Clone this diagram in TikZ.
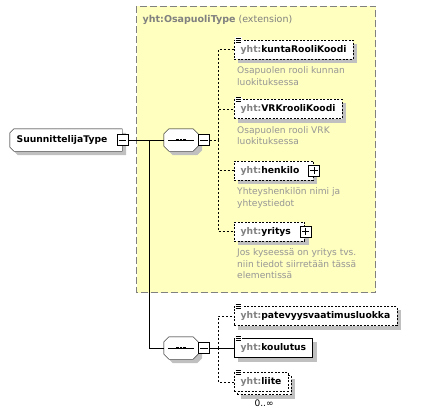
\documentclass[tikz,border=0pt]{standalone}
\usepackage{fontspec}
\setmainfont{DejaVu Sans}
\usetikzlibrary{positioning}
\pgfdeclarelayer{behind}
\pgfdeclarelayer{shade}
\pgfsetlayers{behind,shade,main}
\definecolor{boxyellow}{RGB}{255,255,192}
\definecolor{framegray}{RGB}{128,128,128}
\definecolor{shadowgray}{RGB}{192,192,192}
\definecolor{prefixgray}{RGB}{128,128,128}
\definecolor{notegray}{RGB}{150,150,150}
\newcommand{\yhtname}[1]{\textcolor{prefixgray}{yht:}#1}
\newcommand{\pluspad}{\hspace*{7pt}}
\newcommand{\drawminus}[1]{\draw[line width=0.7pt] ([xshift=2pt]#1.west) -- ([xshift=-2pt]#1.east);}
\newcommand{\drawplus}[1]{\drawminus{#1}\draw[line width=0.7pt] ([yshift=2pt]#1.south) -- ([yshift=-2pt]#1.north);}
\newcommand{\drawlist}[1]{%
    \fill[white] ([shift={(1,-2.5)}]#1.north west) rectangle ++(7,6);
    \foreach \dy in {-1.5,0.5,2.5}
        \draw[line width=0.7pt] ([shift={(1.5,\dy)}]#1.north west) -- ++(5,0);}
\newcommand{\boxshade}[1]{\fill[shadowgray] ([shift={(4,4)}]#1.north west) rectangle ([shift={(4,4)}]#1.south east);}
% outline with cut corners: options, node, left cut, right cut, offset
\newcommand{\cutoutline}[5][]{%
    \path[#1] ([shift={(#3+#5,#5)}]#2.north west) -- ([shift={(-#4+#5,#5)}]#2.north east)
        -- ([shift={(#5,#4+#5)}]#2.north east) -- ([shift={(#5,-#4+#5)}]#2.south east)
        -- ([shift={(-#4+#5,#5)}]#2.south east) -- ([shift={(#3+#5,#5)}]#2.south west)
        -- ([shift={(#5,-#3+#5)}]#2.south west) -- ([shift={(#5,#3+#5)}]#2.north west) -- cycle;}
\tikzset{
    %Define style for element boxes
    elem/.style={
           rectangle,
           draw=black, fill=white,
           font=\fontsize{9.2}{11}\selectfont\bfseries,
           inner xsep=6.5pt, inner ysep=0pt,
           minimum height=19pt,
           anchor=west},
    optelem/.style={elem, dash pattern=on 2pt off 1.5pt},
    % notes under elements
    note/.style={
           font=\fontsize{9.1}{11.3}\selectfont,
           text=notegray, align=left, inner sep=0pt},
    typebox/.style={
           rectangle,
           font=\fontsize{9.2}{11}\selectfont\bfseries,
           minimum width=112pt, minimum height=22pt, inner sep=0pt},
    seqbox/.style={
           rectangle,
           minimum width=34pt, minimum height=22pt, inner sep=0pt},
    cutbox/.style={draw=black, fill=white},
    cutshadow/.style={fill=shadowgray},
    pmbox/.style={
           rectangle, draw=black, fill=white,
           minimum size=11pt, inner sep=0pt},
    % Define connector styles
    optline/.style={dash pattern=on 2pt off 2pt},
    frame/.style={draw=framegray, fill=boxyellow, dash pattern=on 7pt off 3pt}
}
\begin{document}
\begin{tikzpicture}[x=1pt,y=-1pt,line width=0.8pt,node distance=8pt]
\useasboundingbox (0,0) rectangle (433,417);
 %extension frame
\begin{pgfonlayer}{behind}
\draw[frame] (136.5,6.5) rectangle (375.5,292.5);
\end{pgfonlayer}
\node[anchor=west, inner sep=0pt, text=framegray, font=\fontsize{9.5}{11}\selectfont] (title) at (142.5,19.5) {\textbf{yht:OsapuoliType} (extension)};

 %nodes
\node[typebox] (type) at (66,140) {SuunnittelijaType\hspace*{8pt}};
\node[pmbox] (typeminus) at (type.east) {};
\node[seqbox] (seqA) at (181,140) {};
\node[pmbox, right=0pt of seqA] (seqAminus) {};
\node[seqbox] (seqB) at (181,348) {};
\node[pmbox, right=0pt of seqB] (seqBminus) {};
\begin{pgfonlayer}{shade}
\cutoutline[cutshadow]{type}{4}{0}{4}
\cutoutline[cutbox]{type}{4}{0}{0}
\foreach \s in {seqA,seqB}{
    \cutoutline[cutshadow]{\s}{5}{5}{4}
    \cutoutline[cutbox]{\s}{5}{5}{0}
}
\end{pgfonlayer}
\drawminus{typeminus}
\drawminus{seqAminus}
\drawminus{seqBminus}
\foreach \s in {seqA,seqB}{
    \draw ([xshift=4pt]\s.west) -- ([xshift=-4pt]\s.east);
    \foreach \dx in {-3.7,0,3.7}
        \fill ([shift={(\dx-1.35,-1.35)}]\s.center) rectangle ++(2.7,2.7);
}

\node[optelem] (e1) at (234,49.5) {\yhtname{kuntaRooliKoodi}};
\node[note, below right=7.5pt and 3pt of e1.south west] (d1) {Osapuolen rooli kunnan\\luokituksessa};
\node[optelem] (e2) at (234,109) {\yhtname{VRKrooliKoodi}};
\node[note, below right=7.5pt and 3pt of e2.south west] (d2) {Osapuolen rooli VRK\\luokituksessa};
\node[optelem] (e3) at (234,170.5) {\yhtname{henkilo}\pluspad};
\node[note, below right=7.5pt and 3pt of e3.south west] (d3) {Yhteyshenkilön nimi ja\\yhteystiedot};
\node[optelem] (e4) at (234,231.5) {\yhtname{yritys}\pluspad};
\node[note, below right=7.5pt and 3pt of e4.south west] (d4) {Jos kyseessä on yritys tvs.\\niin tiedot siirretään tässä\\elementissä};
\node[pmbox, xshift=1pt] (e3plus) at (e3.east) {};
\node[pmbox, xshift=1pt] (e4plus) at (e4.east) {};
\drawplus{e3plus}
\drawplus{e4plus}

\node[optelem] (e5) at (234,316) {\yhtname{patevyysvaatimusluokka}};
\node[elem] (e6) at (234,348) {\yhtname{koulutus}};
\node[optelem] (e7back) at (237,385) {\phantom{\yhtname{liite}}};
\node[optelem] (e7) at (234,382) {\yhtname{liite}};
\node[inner sep=0pt, font=\fontsize{9}{11}\selectfont, below=5pt of e7back.south] (e7mult) {0..∞};
\drawlist{e1}
\drawlist{e2}
\drawlist{e5}
\drawlist{e6}
\drawlist{e7}

 %shadows
\begin{pgfonlayer}{behind}
\foreach \e in {e1,e2,e3,e4,e5,e6,e7back}{
    \boxshade{\e}
}
\end{pgfonlayer}

 %connectors
\coordinate (forkT) at (149,140);
\coordinate (forkA) at (218,140);
\coordinate (forkB) at (218,348);
\draw (typeminus.east) -- (seqA.west);
\draw (forkT) |- (seqB.west);
\draw[optline] (seqAminus.east) -- (forkA);
\foreach \e in {e1,e2,e3,e4}
    \draw[optline] (forkA) |- (\e.west);
\draw (seqBminus.east) -- (e6.west);
\draw[optline] (forkB) |- (e5.west);
\draw[optline] (forkB) |- (e7.west);

\end{tikzpicture}
\end{document}
